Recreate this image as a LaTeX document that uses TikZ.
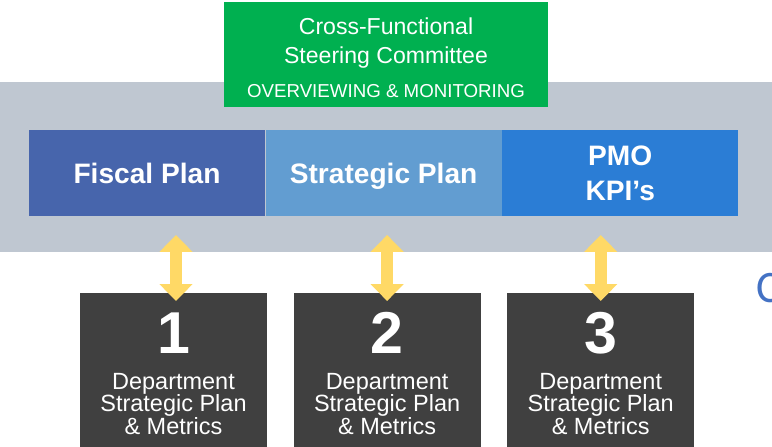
\documentclass[tikz,border=0pt]{standalone}
\usepackage{fontspec}
\setmainfont{Liberation Sans}
\newfontfamily\calfont{Carlito}
\usetikzlibrary{positioning,calc,arrows.meta}

\definecolor{bandgray}{RGB}{191,199,209}
\definecolor{steergreen}{RGB}{0,176,80}
\definecolor{fiscalblue}{RGB}{71,101,172}
\definecolor{stratblue}{RGB}{98,157,209}
\definecolor{pmoblue}{RGB}{43,125,213}
\definecolor{deptgray}{RGB}{64,64,64}
\definecolor{linkyellow}{RGB}{255,217,102}
\definecolor{cutblue}{RGB}{68,114,196}

\begin{document}
\begin{tikzpicture}[
    x=0.025cm, y=-0.025cm,
    plan/.style={minimum width=5.9cm, minimum height=2.15cm, inner sep=0pt, align=center, text=white, font=\fontsize{20}{25}\selectfont\bfseries},
    planone/.style={plan, text height=14.3pt, text depth=0pt},
    dept/.style={fill=deptgray, minimum width=4.675cm, minimum height=4.2cm, inner sep=0pt, anchor=north},
    deptnum/.style={text=white, inner sep=0pt, font=\fontsize{42}{42}\selectfont\bfseries},
    depttxt/.style={text=white, inner sep=0pt, align=center, font=\fontsize{16.7}{16.1}\selectfont},
    link/.style={linkyellow, line width=8.5pt, {Triangle[width=22.8pt,length=12pt]}-{Triangle[width=22.8pt,length=12pt]}}
]
    \useasboundingbox (0,0) rectangle (772,447);
    \clip (0,0) rectangle (772,447);

    % Gray band behind the plans
    \node[fill=bandgray, minimum width=19.6cm, minimum height=4.25cm, inner sep=0pt, anchor=north west] (band) at (0,82) {};

    % Steering committee on top
    \node[fill=steergreen, minimum width=8.1cm, minimum height=2.625cm, inner sep=0pt] (steer) at (386,54.5) {};
    \node[text=white, align=center, inner sep=0pt, font=\fontsize{16.4}{20}\selectfont, anchor=base] (steertitle) at (386,63)
        {Cross-Functional\\Steering Committee};
    \node[text=white, inner sep=0pt, font=\fontsize{13.3}{16}\selectfont, anchor=base] (steersub) at (386,97)
        {OVERVIEWING \& MONITORING};

    % Plan bar (left to right)
    \node[planone, fill=fiscalblue] (fiscal) at (147,173) {Fiscal Plan};
    \node[planone, fill=stratblue, right=0pt of fiscal] (strat) {Strategic Plan};
    \node[plan, fill=pmoblue, right=0pt of strat] (pmo) {PMO\\KPI’s};

    % Department boxes
    \node[dept] (d1) at (173.5,293) {};
    \node[dept, right=0.65cm of d1] (d2) {};
    \node[dept, right=0.65cm of d2] (d3) {};

    \node[deptnum] (n1) at ($(d1.north)+(0,40)$) {1};
    \node[deptnum] (n2) at ($(d2.north)+(0,40)$) {2};
    \node[deptnum] (n3) at ($(d3.north)+(0,40)$) {3};

    \node[depttxt] (t1) at ($(d1.north)+(0,111)$) {Department\\Strategic Plan\\\& Metrics};
    \node[depttxt] (t2) at ($(d2.north)+(0,111)$) {Department\\Strategic Plan\\\& Metrics};
    \node[depttxt] (t3) at ($(d3.north)+(0,111)$) {Department\\Strategic Plan\\\& Metrics};

    % Two-way links between band and departments
    \coordinate (a1) at ($(d1.north)+(2.5,-58)$);
    \coordinate (a2) at ($(d2.north)+(0,-58)$);
    \coordinate (a3) at ($(d3.north)+(0,-58)$);
    \draw[link] (a1) -- ($(d1.north)+(2.5,8)$);
    \draw[link] (a2) -- ($(d2.north)+(0,8)$);
    \draw[link] (a3) -- ($(d3.north)+(0,8)$);

    % Cut-off heading at the right edge
    \node[text=cutblue, inner sep=0pt, anchor=west, font=\calfont\fontsize{32}{32}\selectfont] (cut) at (756,288) {C};
\end{tikzpicture}
\end{document}
